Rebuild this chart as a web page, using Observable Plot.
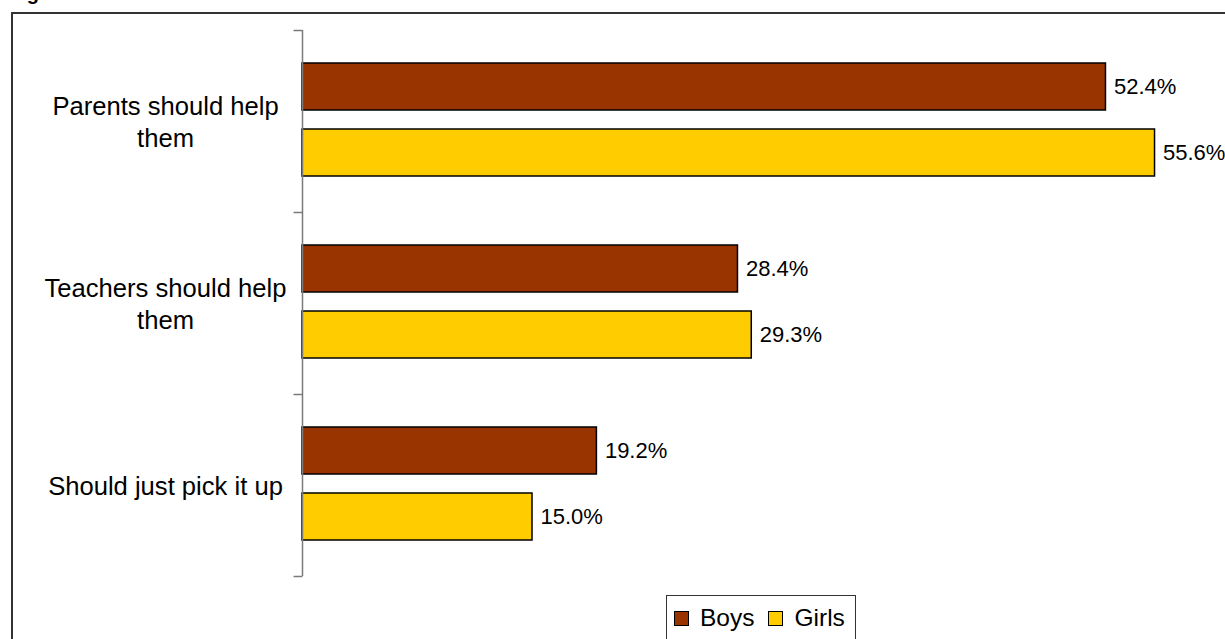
<!DOCTYPE html>
<html>
<head>
<meta charset="utf-8">
<script src="https://cdn.jsdelivr.net/npm/d3@7"></script>
<script src="https://cdn.jsdelivr.net/npm/@observablehq/plot@0.6"></script>
<style>
  html, body { margin: 0; padding: 0; width: 1225px; height: 639px; overflow: hidden; background: #fff; }
  body { position: relative; font-family: "Liberation Sans", Arial, Helvetica, sans-serif; }
  #title { position: absolute; left: 9px; top: -17px; font-size: 20px; line-height: 20px; font-weight: bold; color: #000; white-space: nowrap; }
  #chart { position: absolute; left: 0; top: 0; }
  #frame { position: absolute; left: 11px; top: 12px; width: 1300px; height: 700px; border: 2px solid #333; box-sizing: border-box; pointer-events: none; }
  #legend { position: absolute; left: 666px; top: 595px; width: 190px; height: 60px; border: 1.5px solid #333; box-sizing: border-box; background: #fff;
            display: flex; align-items: center; height: 60px; padding-left: 7px; padding-bottom: 14px; font-size: 24.5px; color: #000; }
  .sw { width: 15px; height: 15px; border: 1px solid #000; box-sizing: border-box; display: inline-block; }
  .item { display: flex; align-items: center; }
  .item span.lab { margin-left: 11px; }
</style>
</head>
<body>
<div id="title">Figure</div>
<div id="chart"></div>
<div id="frame"></div>
<div id="legend"></div>
<script>
// ---- data ----
const categories = ["Parents should help them", "Teachers should help them", "Should just pick it up"];
const categoryLabels = ["Parents should help\nthem", "Teachers should help\nthem", "Should just pick it up"];
const genders = ["Boys", "Girls"];
const boys = [52.4, 28.4, 19.2];
const girls = [55.6, 29.3, 15.0];
const colors = ["#993300", "#FFCC00"];

const rows = [];
categories.forEach((c, i) => {
  rows.push({category: c, gender: "Boys", value: boys[i]});
  rows.push({category: c, gender: "Girls", value: girls[i]});
});
const labelOf = new Map(categories.map((c, i) => [c, categoryLabels[i]]));

const tickSymbol = { draw(ctx, size) { ctx.moveTo(-9, 0); ctx.lineTo(0, 0); } };

const plot = Plot.plot({
  width: 1225,
  height: 639,
  marginLeft: 302,
  marginRight: 3,
  marginTop: 30,
  marginBottom: 63,
  style: { background: "none", fontFamily: "'Liberation Sans', Arial, Helvetica, sans-serif", color: "#000" },
  x: { domain: [0, 60], axis: null },
  y: { domain: genders, paddingInner: 0.29, paddingOuter: 0.52, align: 0.48, axis: null },
  fy: { domain: categories, padding: 0, axis: null },
  color: { domain: genders, range: colors },
  marks: [
    Plot.barX(rows, { x: "value", y: "gender", fy: "category", fill: "gender", stroke: "#000", strokeWidth: 1.5 }),
    Plot.text(rows, { x: "value", y: "gender", fy: "category", text: d => d.value.toFixed(1) + "%",
                      textAnchor: "start", dx: 8, fontSize: 22, fill: "#000" }),
    Plot.ruleX([0], { stroke: "#7a7a7a", strokeWidth: 1.5 }),
    Plot.dot(categories, { x: null, y: null, fy: d => d, frameAnchor: "top-left", symbol: tickSymbol,
                           fill: "none", stroke: "#7a7a7a", strokeWidth: 1.5 }),
    Plot.dot(categories.slice(-1), { x: null, y: null, fy: d => d, frameAnchor: "bottom-left", symbol: tickSymbol,
                           fill: "none", stroke: "#7a7a7a", strokeWidth: 1.5 }),
    Plot.text(categories, { x: null, y: null, fy: d => d, text: d => labelOf.get(d), frameAnchor: "left",
                            textAnchor: "middle", dx: -137, dy: -1, fontSize: 25.6, lineHeight: 1.25, fill: "#000" })
  ]
});
document.getElementById("chart").appendChild(plot);

// legend
const legend = document.getElementById("legend");
genders.forEach((g, i) => {
  const item = document.createElement("div");
  item.className = "item";
  if (i > 0) item.style.marginLeft = "14px";
  const sw = document.createElement("span");
  sw.className = "sw";
  sw.style.background = colors[i];
  const lab = document.createElement("span");
  lab.className = "lab";
  lab.textContent = g;
  item.appendChild(sw);
  item.appendChild(lab);
  legend.appendChild(item);
});
</script>
</body>
</html>
